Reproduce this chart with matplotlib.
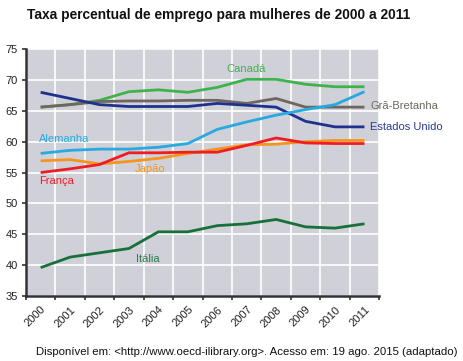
import numpy as np
import matplotlib
matplotlib.use("Agg")
import matplotlib.pyplot as plt

plt.rcParams['font.family'] = ['Liberation Sans', 'DejaVu Sans']

# anos / categorias
anos = ['2000', '2001', '2002', '2003', '2004', '2005',
        '2006', '2007', '2008', '2009', '2010', '2011']

# valores (%)
canada = [65.6, 66.0, 66.7, 68.1, 68.4, 68.0, 68.8, 70.1, 70.1, 69.3, 68.9, 68.9]
gra_bretanha = [65.6, 66.0, 66.5, 66.6, 66.6, 66.7, 66.7, 66.2, 67.0, 65.6, 65.6, 65.6]
estados_unidos = [68.0, 67.0, 66.0, 65.7, 65.7, 65.7, 66.2, 65.9, 65.6, 63.3, 62.4, 62.4]
alemanha = [58.1, 58.6, 58.8, 58.8, 59.1, 59.7, 62.0, 63.2, 64.3, 65.2, 66.0, 68.1]
japao = [56.9, 57.1, 56.4, 56.8, 57.3, 58.1, 58.8, 59.5, 59.6, 60.0, 60.2, 60.2]
franca = [55.0, 55.6, 56.3, 58.2, 58.2, 58.3, 58.3, 59.4, 60.6, 59.8, 59.7, 59.7]
italia = [39.6, 41.3, 42.0, 42.7, 45.4, 45.4, 46.4, 46.7, 47.4, 46.2, 46.0, 46.7]

series = [
    ('Canadá', canada, '#3cb44b', '#3cb44b'),
    ('Grã-Bretanha', gra_bretanha, '#6d6760', '#6d6760'),
    ('Estados Unido', estados_unidos, '#1e3190', '#2a3a95'),
    ('Alemanha', alemanha, '#27aae1', '#27aae1'),
    ('Japão', japao, '#f7941d', '#f7941d'),
    ('França', franca, '#ee1d23', '#ee1d23'),
    ('Itália', italia, '#17703a', '#2e7d4a'),
]

# posicao dos rotulos (indice do ano, valor)
rotulos = {
    'Canadá': (6.3, 71.8),
    'Grã-Bretanha': (11.2, 65.8),
    'Estados Unido': (11.2, 62.3),
    'Alemanha': (-0.05, 60.4),
    'Japão': (3.2, 55.5),
    'França': (-0.05, 53.7),
    'Itália': (3.25, 41.0),
}

fig = plt.figure(figsize=(4.63, 3.61), dpi=100)
ax = fig.add_axes([0.056, 0.180, 0.763, 0.684])
ax.set_facecolor('#d0d0d8')

x = np.arange(len(anos))
for nome, vals, cor, cor_txt in series:
    ax.plot(x, vals, color=cor, lw=2.0, solid_capstyle='butt', zorder=3)
    tx, ty = rotulos[nome]
    ax.text(tx, ty, nome, color=cor_txt, fontsize=8.0, va='center',
            ha='left', clip_on=False, zorder=4)

ax.set_xlim(-0.5, 11.5)
ax.set_ylim(35, 75)
ax.set_yticks(np.arange(35, 76, 5))
ax.set_xticks(x)
ax.set_xticks(np.arange(-0.5, 12, 1), minor=True)
ax.set_xticklabels(anos, rotation=45, ha='right', rotation_mode='anchor')

ax.grid(True, which='minor', axis='x', color='white', lw=1.2, zorder=1)
ax.grid(True, which='major', axis='y', color='white', lw=1.2, zorder=1)
ax.set_axisbelow(True)

ax.tick_params(axis='x', which='major', length=0, labelsize=8.0, pad=6,
               colors='#222222')
ax.tick_params(axis='x', which='minor', length=3, width=1.2, color='#333333')
ax.tick_params(axis='y', length=3, width=1.2, color='#333333', labelsize=8.0,
               pad=3, labelcolor='#222222')

for s in ['top', 'right']:
    ax.spines[s].set_visible(False)
for s in ['left', 'bottom']:
    ax.spines[s].set_color('#333333')
    ax.spines[s].set_linewidth(1.8)

fig.text(27 / 463, 1 - 15 / 361, 'Taxa percentual de emprego para mulheres de 2000 a 2011',
         fontsize=9.9, fontweight='bold', va='center', ha='left', color='#111111')
fig.text(36 / 463, 1 - 352 / 361,
         'Disponível em: <http://www.oecd-ilibrary.org>. Acesso em: 19 ago. 2015 (adaptado)',
         fontsize=8.2, va='center', ha='left', color='#111111')

fig.savefig('out.png', dpi=100)
